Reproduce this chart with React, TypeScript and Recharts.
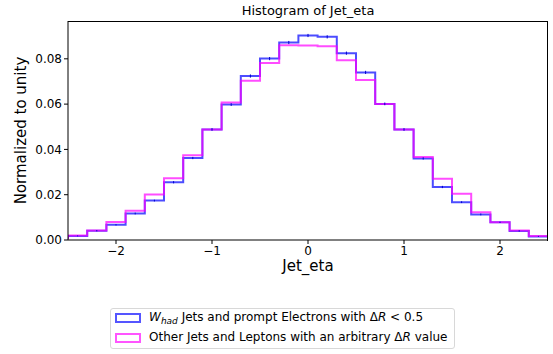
import React from 'react';
import {
  ComposedChart,
  Line,
  Scatter,
  ErrorBar,
  XAxis,
  YAxis,
} from 'recharts';

// bin edges from -2.5 to 2.5, width 0.2
const binEdges = [
  -2.5, -2.3, -2.1, -1.9, -1.7, -1.5, -1.3, -1.1, -0.9, -0.7, -0.5, -0.3, -0.1,
  0.1, 0.3, 0.5, 0.7, 0.9, 1.1, 1.3, 1.5, 1.7, 1.9, 2.1, 2.3, 2.5,
];

const whadValues = [
  0.0018, 0.0041, 0.0067, 0.0117, 0.0174, 0.0255, 0.0362, 0.0488, 0.0598, 0.0724,
  0.0801, 0.0872, 0.0903, 0.0897, 0.0825, 0.074, 0.0601, 0.0488, 0.036, 0.0234,
  0.0167, 0.0113, 0.0078, 0.004, 0.0016,
];

const whadErrors = [
  0.0002, 0.0003, 0.0003, 0.0004, 0.0004, 0.0005, 0.0005, 0.0006, 0.0006, 0.0007,
  0.0007, 0.0007, 0.0007, 0.0007, 0.0007, 0.0007, 0.0006, 0.0006, 0.0005, 0.0005,
  0.0004, 0.0004, 0.0003, 0.0003, 0.0002,
];

const otherValues = [
  0.002, 0.0042, 0.0079, 0.0129, 0.0201, 0.0273, 0.0374, 0.0488, 0.0607, 0.0703,
  0.0782, 0.086, 0.0859, 0.0856, 0.0794, 0.0706, 0.0601, 0.0488, 0.0366, 0.0271,
  0.0204, 0.0122, 0.0078, 0.0042, 0.0018,
];

const yTicks = [0, 0.02, 0.04, 0.06, 0.08];
const xTicks = [-2, -1, 0, 1, 2];

const FONT = '"DejaVu Sans", sans-serif';

function stepData(values: number[]) {
  const rows = [{ x: binEdges[0], y: 0 }];
  values.forEach((v, i) => rows.push({ x: binEdges[i], y: v }));
  rows.push({ x: binEdges[binEdges.length - 1], y: values[values.length - 1] });
  rows.push({ x: binEdges[binEdges.length - 1], y: 0 });
  return rows;
}

const whadSteps = stepData(whadValues);
const otherSteps = stepData(otherValues);
const whadPoints = whadValues.map((v, i) => ({
  x: (binEdges[i] + binEdges[i + 1]) / 2,
  y: v,
  err: whadErrors[i],
}));

const fmtX = (v: number) => (v < 0 ? `\u2212${Math.abs(v)}` : `${v}`);

export default function App() {
  return (
    <div
      style={{
        position: 'absolute',
        left: 0,
        top: 0,
        width: 553,
        height: 354,
        background: '#fff',
        fontFamily: FONT,
      }}
    >
      <div
        style={{
          position: 'absolute',
          left: 68,
          width: 480,
          top: 3,
          textAlign: 'center',
          fontSize: 13,
        }}
      >
        Histogram of Jet_eta
      </div>
      <ComposedChart
        width={553}
        height={354}
        margin={{ top: 21, right: 5, bottom: 84, left: 8 }}
      >
        <XAxis
          type="number"
          dataKey="x"
          domain={[-2.5, 2.5]}
          ticks={xTicks}
          tickFormatter={fmtX}
          allowDataOverflow
          height={30}
          stroke="#808080"
          strokeWidth={2}
          tickSize={4}
          tick={{ fill: '#000', fontSize: 12, fontFamily: FONT }}
          tickLine={{ stroke: '#000', strokeWidth: 1 }}
        />
        <YAxis
          type="number"
          domain={[0, 0.0967]}
          ticks={yTicks}
          tickFormatter={(v: number) => v.toFixed(2)}
          allowDataOverflow
          width={60}
          stroke="#000"
          tickSize={4}
          tick={{ fill: '#000', fontSize: 12, fontFamily: FONT }}
          label={{
            value: 'Normalized to unity',
            angle: -90,
            position: 'insideLeft',
            offset: 13,
            style: { textAnchor: 'middle', fontSize: 15, fill: '#000', fontFamily: FONT },
          }}
        />
        <Line
          data={whadSteps}
          dataKey="y"
          type="stepAfter"
          stroke="#0000ff"
          strokeOpacity={0.7}
          strokeWidth={2}
          dot={false}
          activeDot={false}
          isAnimationActive={false}
        />
        <Line
          data={otherSteps}
          dataKey="y"
          type="stepAfter"
          stroke="#ff00ff"
          strokeOpacity={0.7}
          strokeWidth={2}
          dot={false}
          activeDot={false}
          isAnimationActive={false}
        />
        <Scatter
          data={whadPoints}
          dataKey="y"
          shape={() => <g />}
          isAnimationActive={false}
        >
          <ErrorBar dataKey="err" direction="y" width={0} stroke="#0000cc" strokeWidth={1} />
        </Scatter>
      </ComposedChart>
      <div
        style={{
          position: 'absolute',
          left: 68,
          top: 21,
          width: 479,
          height: 219,
          borderTop: '1px solid #000',
          borderRight: '1px solid #000',
          pointerEvents: 'none',
        }}
      />
      <div
        style={{
          position: 'absolute',
          left: 68,
          width: 480,
          top: 257,
          textAlign: 'center',
          fontSize: 15,
        }}
      >
        Jet_eta
      </div>
      <div
        style={{
          position: 'absolute',
          left: 110,
          top: 308,
          width: 343,
          height: 39,
          border: '1px solid #d8d8d8',
          borderRadius: 3,
          fontSize: 12,
          lineHeight: '20px',
        }}
      >
        <div style={{ position: 'absolute', left: 4, top: 4, width: 22, height: 6, border: '2px solid #5555ff' }} />
        <div style={{ position: 'absolute', left: 4, top: 24, width: 22, height: 6, border: '2px solid #ff55ff' }} />
        <div style={{ position: 'absolute', left: 38, top: -2, whiteSpace: 'nowrap' }}>
          <i>W</i>
          <sub style={{ fontSize: 9, fontStyle: 'italic', lineHeight: 0 }}>had</sub> Jets and prompt Electrons with
          {' \u0394'}
          <i>R</i> &lt; 0.5
        </div>
        <div style={{ position: 'absolute', left: 38, top: 18, whiteSpace: 'nowrap' }}>
          Other Jets and Leptons with an arbitrary {'\u0394'}
          <i>R</i> value
        </div>
      </div>
    </div>
  );
}
